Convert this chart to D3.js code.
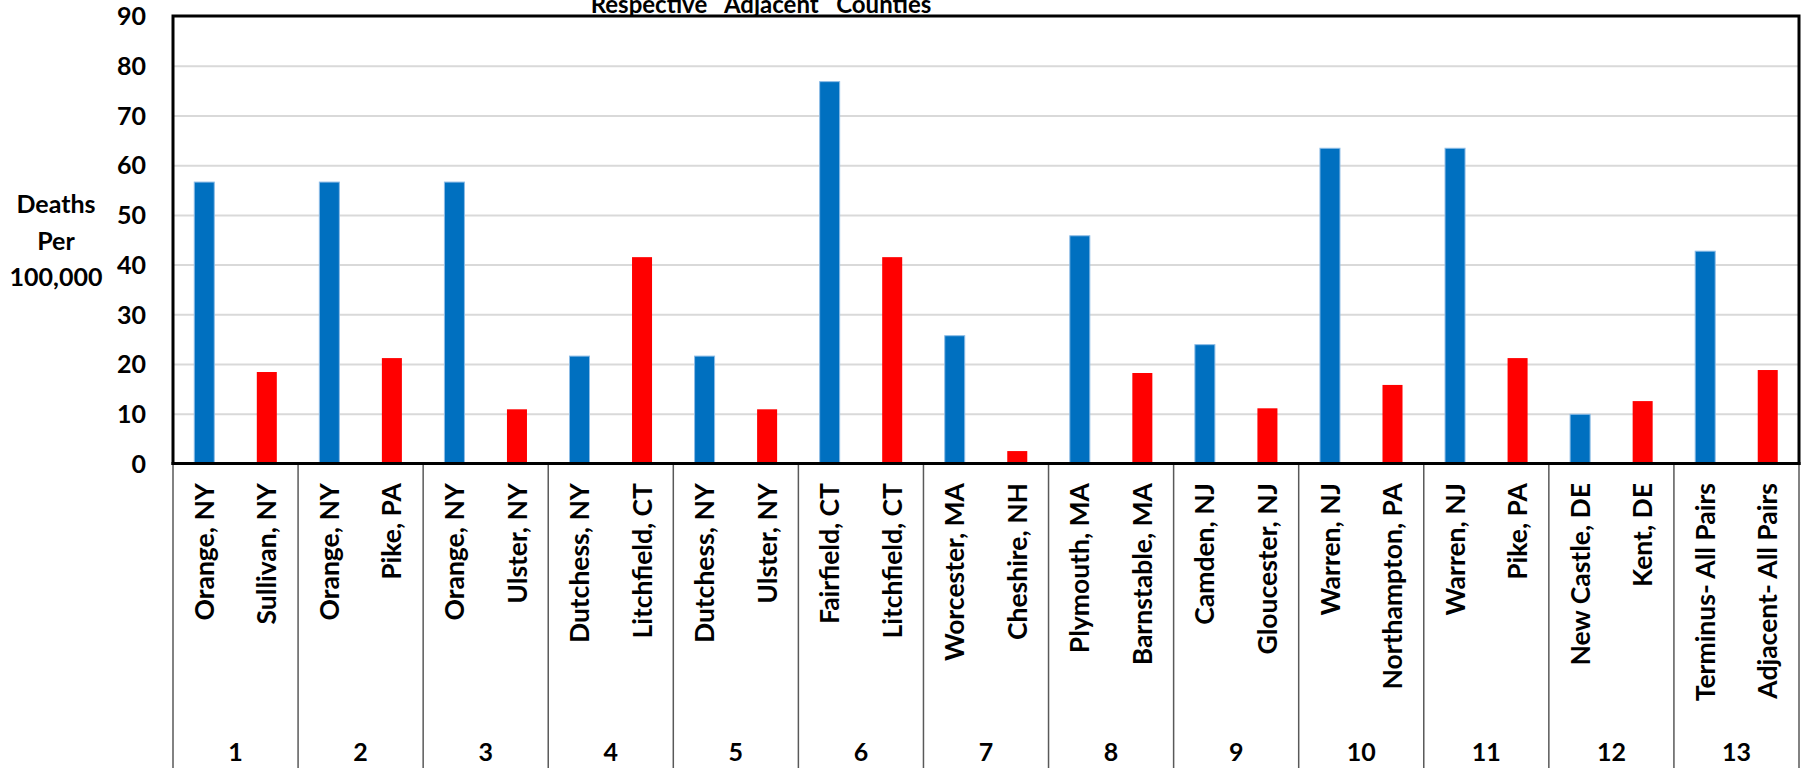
<!DOCTYPE html>
<html>
<head>
<meta charset="utf-8">
<script src="https://cdn.jsdelivr.net/npm/d3@7"></script>
<style>
  html, body { margin: 0; padding: 0; background: #fff; }
  svg { display: block; }
  text { font-family: Lato, "Open Sans", sans-serif; font-weight: bold; fill: #000; }
</style>
</head>
<body>
<svg id="chart" width="1804" height="768"></svg>
<script>
// ---- Data ----
const groups = ["1","2","3","4","5","6","7","8","9","10","11","12","13"];
const terminusNames = ["Orange, NY","Orange, NY","Orange, NY","Dutchess, NY","Dutchess, NY","Fairfield, CT","Worcester, MA","Plymouth, MA","Camden, NJ","Warren, NJ","Warren, NJ","New Castle, DE","Terminus- All Pairs"];
const adjacentNames = ["Sullivan, NY","Pike, PA","Ulster, NY","Litchfield, CT","Ulster, NY","Litchfield, CT","Cheshire, NH","Barnstable, MA","Gloucester, NJ","Northampton, PA","Pike, PA","Kent, DE","Adjacent- All Pairs"];
const terminusValues = [56.6, 56.6, 56.6, 21.6, 21.6, 76.8, 25.7, 45.8, 23.9, 63.4, 63.4, 9.9, 42.7];
const adjacentValues = [18.4, 21.2, 10.9, 41.5, 10.9, 41.5, 2.5, 18.2, 11.1, 15.8, 21.2, 12.55, 18.8];
const yTicks = [0, 10, 20, 30, 40, 50, 60, 70, 80, 90];
const seriesKeys = ["terminus", "adjacent"];
const seriesColors = {terminus: "#0070C0", adjacent: "#FF0000"};
const titleText = "Respective   Adjacent   Counties";
const yTitleLines = ["Deaths", "Per", "100,000"];

// ---- Layout ----
const svg = d3.select("#chart");
const L = 173, R = 1799, T = 16, B = 463.5, H = 768;

const y = d3.scaleLinear().domain([0, 90]).range([B, T]);
const gx = d3.scaleBand().domain(groups).range([L, R]);
const sx = d3.scaleBand().domain(seriesKeys).range([0, gx.bandwidth()]).paddingInner(0.68).paddingOuter(0.34);
const catIdx = d3.range(groups.length * 2);
const cx = d3.scaleBand().domain(catIdx).range([L, R]);
const catLabels = catIdx.map(i => (i % 2 === 0 ? terminusNames : adjacentNames)[Math.floor(i / 2)]);

// Gridlines
const grid = svg.append("g").attr("transform", `translate(${L},0)`)
  .call(d3.axisLeft(y).tickValues(yTicks.filter(v => v > 0 && v < 90)).tickSize(-(R - L)).tickFormat(""));
grid.select(".domain").remove();
grid.selectAll("line").attr("stroke", "#d9d9d9").attr("stroke-width", 2);

// Bars
const rows = groups.map((g, i) => ({g, terminus: terminusValues[i], adjacent: adjacentValues[i]}));
const gg = svg.append("g").selectAll("g").data(rows).join("g")
  .attr("transform", d => `translate(${gx(d.g)},0)`);
gg.selectAll("rect").data(d => seriesKeys.map(k => ({k, v: d[k]}))).join("rect")
  .attr("x", d => sx(d.k))
  .attr("width", sx.bandwidth())
  .attr("y", d => y(d.v))
  .attr("height", d => y(0) - y(d.v))
  .attr("fill", d => seriesColors[d.k])
  .attr("stroke", d => d.k === "terminus" ? "#8dbce6" : "none")
  .attr("stroke-width", 1);

// Plot border
svg.append("rect").attr("x", L).attr("y", T).attr("width", R - L).attr("height", B - T)
  .attr("fill", "none").attr("stroke", "#000").attr("stroke-width", 3);

// Group separators
const sepX = groups.map(g => gx(g)).concat([gx.range()[1]]);
svg.append("g").selectAll("line").data(sepX).join("line")
  .attr("x1", d => d).attr("x2", d => d).attr("y1", B).attr("y2", H)
  .attr("stroke", "#595959").attr("stroke-width", 1.5);

// Bottom axis line
svg.append("line").attr("x1", L - 1.5).attr("x2", R + 1.5).attr("y1", B).attr("y2", B)
  .attr("stroke", "#000").attr("stroke-width", 3);

// Y axis labels
const yAxis = svg.append("g").attr("transform", `translate(${L},0)`)
  .call(d3.axisLeft(y).tickValues(yTicks).tickSize(0).tickPadding(27));
yAxis.select(".domain").remove();
yAxis.selectAll("text").attr("font-size", 25).attr("font-family", "Lato").attr("font-weight", "bold").attr("fill", "#000").attr("dy", "0.35em");

// Category labels
const catAxis = svg.append("g").attr("transform", `translate(0,${B})`)
  .call(d3.axisBottom(cx).tickSize(0).tickFormat(i => catLabels[i]));
catAxis.select(".domain").remove();
catAxis.selectAll("text")
  .attr("font-size", 26.5).attr("font-family", "Lato").attr("font-weight", "bold").attr("fill", "#000")
  .attr("transform", "rotate(-90)")
  .attr("text-anchor", "end")
  .attr("x", -19.5).attr("y", 0).attr("dy", "0.36em");

// Group numbers
const grpAxis = svg.append("g").attr("transform", `translate(0,${B})`)
  .call(d3.axisBottom(gx).tickSize(0));
grpAxis.select(".domain").remove();
grpAxis.selectAll("text")
  .attr("font-size", 25).attr("font-family", "Lato").attr("font-weight", "bold").attr("fill", "#000")
  .attr("y", 297.5).attr("dy", 0);

// Y title
svg.append("text").attr("text-anchor", "middle").attr("font-size", 25)
  .selectAll("tspan").data(yTitleLines).join("tspan")
  .attr("x", 56).attr("y", (d, i) => [213, 250, 286][i]).text(d => d);

// Title (partially cut off at top)
svg.append("text").attr("x", 761).attr("y", 13).attr("text-anchor", "middle")
  .attr("font-size", 24).style("white-space", "pre").text(titleText);
</script>
</body>
</html>
